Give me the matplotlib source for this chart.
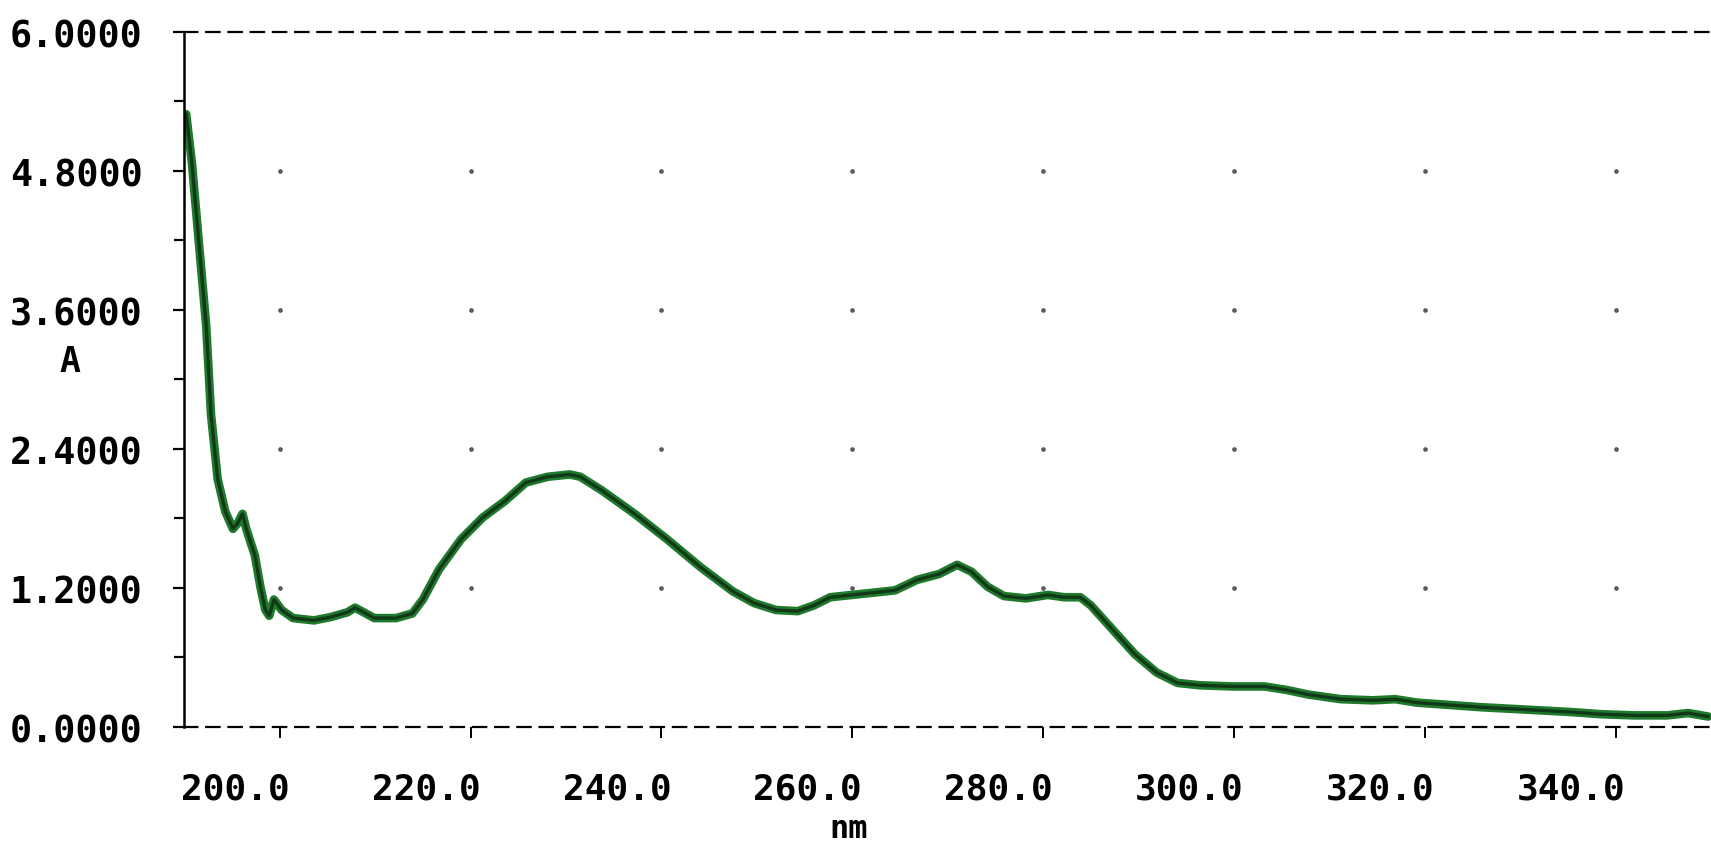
#!/usr/bin/env python

import numpy as np
import matplotlib
matplotlib.use('Agg')
import matplotlib.pyplot as plt
import matplotlib.transforms as mtransforms

# absorbance scan, nm vs A
wl = [190.2, 190.8, 191.5, 192.3, 192.8, 193.5, 194.3, 195.1, 195.6, 196.1,
      196.5, 197.4, 198.0, 198.5, 198.9, 199.4, 200.2, 201.4, 203.6, 205.4,
      207.1, 207.9, 208.8, 209.9, 212.2, 213.9, 215.0, 216.7, 219.0, 221.3,
      223.6, 225.8, 228.1, 230.4, 231.5, 233.8, 237.2, 240.6, 244.1, 247.5,
      249.7, 252.0, 254.3, 256.0, 257.7, 260.0, 262.3, 264.5, 266.8, 269.1,
      271.0, 272.5, 274.2, 275.9, 278.2, 280.5, 282.2, 283.9, 285.0, 287.3,
      289.6, 291.9, 294.1, 296.4, 299.8, 303.2, 305.5, 307.8, 311.2, 314.6,
      316.9, 319.2, 322.6, 326.0, 330.6, 335.1, 338.5, 342.0, 345.4, 347.6,
      349.7]
absb = [5.29, 4.87, 4.21, 3.46, 2.70, 2.14, 1.86, 1.71, 1.76, 1.84,
        1.71, 1.48, 1.20, 1.01, 0.96, 1.10, 1.01, 0.94, 0.92, 0.95,
        0.99, 1.03, 0.99, 0.94, 0.94, 0.98, 1.10, 1.36, 1.62, 1.81,
        1.95, 2.11, 2.16, 2.18, 2.16, 2.04, 1.84, 1.62, 1.38, 1.17,
        1.07, 1.01, 1.00, 1.05, 1.12, 1.14, 1.16, 1.18, 1.27, 1.32,
        1.40, 1.34, 1.21, 1.13, 1.11, 1.14, 1.12, 1.12, 1.05, 0.84,
        0.63, 0.47, 0.38, 0.36, 0.35, 0.35, 0.32, 0.28, 0.24, 0.23,
        0.24, 0.21, 0.19, 0.17, 0.15, 0.13, 0.11, 0.10, 0.10, 0.12,
        0.09]

x_ticks = [200, 220, 240, 260, 280, 300, 320, 340]
x_labels = ['200.0', '220.0', '240.0', '260.0', '280.0', '300.0', '320.0', '340.0']
y_ticks = [0.0, 1.2, 2.4, 3.6, 4.8, 6.0]
y_labels = ['0.0000', '1.2000', '2.4000', '3.6000', '4.8000', '6.0000']


def main():
  plt.close('all')
  mono = 'DejaVu Sans Mono'

  fig = plt.figure(figsize=(17.11, 8.45), dpi=100)
  ax = fig.add_axes([0.1077, 0.1385, 0.8923, 0.8225])

  # dotted grid at the labelled positions
  gx, gy = np.meshgrid(x_ticks, y_ticks[1:-1])
  ax.plot(gx.ravel(), gy.ravel(), ls='none', marker='o', ms=2.4,
          color='#444444', alpha=0.8)

  ax.plot(wl, absb, color='#207a2d', lw=6.2, solid_capstyle='round',
          solid_joinstyle='round')
  ax.plot(wl, absb, color='#0c2410', lw=2.4, alpha=0.75,
          solid_joinstyle='round')

  ax.set_xlim(190.0, 350.0)
  ax.set_ylim(0.0, 6.0)

  for s in ['top', 'bottom']:
    ax.spines[s].set_linestyle((0, (6, 4)))
    ax.spines[s].set_linewidth(1.6)
  ax.spines['right'].set_visible(False)
  ax.spines['left'].set_linewidth(1.8)

  ax.set_yticks(y_ticks)
  ax.set_yticklabels(y_labels, fontfamily=mono, fontweight='bold', fontsize=26.5)
  ax.set_yticks(np.arange(0.6, 6.0, 1.2), minor=True)
  ax.tick_params(axis='y', which='major', direction='out', length=8, width=1.6, pad=22)
  ax.tick_params(axis='y', which='minor', direction='out', length=7, width=1.6)

  ax.set_xticks(x_ticks)
  ax.set_xticklabels(x_labels, fontfamily=mono, fontweight='bold', fontsize=26)
  ax.tick_params(axis='x', direction='out', length=8, width=1.4, pad=24)
  shift = mtransforms.ScaledTranslation(0.10, 0, fig.dpi_scale_trans)
  for lab in ax.get_xticklabels():
    lab.set_horizontalalignment('right')
    lab.set_transform(lab.get_transform() + shift)

  fig.text(0.041, 0.572, 'A', fontfamily=mono, fontweight='bold', fontsize=25,
           ha='center', va='center')
  fig.text(0.496, 0.018, 'nm', fontfamily=mono, fontweight='bold', fontsize=23,
           ha='center', va='center')

  plt.savefig('out.png', dpi=100)


if __name__ == "__main__":
  main()
